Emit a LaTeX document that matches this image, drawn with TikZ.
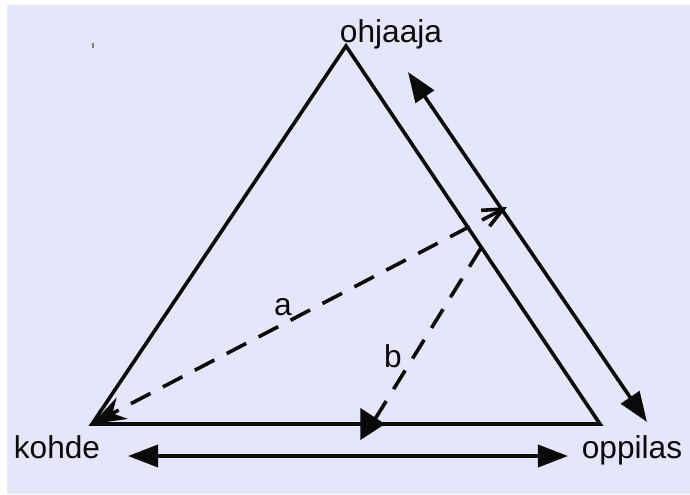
\documentclass[tikz,border=0pt]{standalone}
\usepackage{fontspec}
\setmainfont{Liberation Sans}
\usetikzlibrary{arrows.meta,decorations.markings}
\definecolor{TriBack}{RGB}{230,230,250}
\definecolor{TriInk}{RGB}{10,10,10}

\begin{document}
\begin{tikzpicture}[x=0.025cm,y=-0.025cm,line width=0.09cm,TriInk,
    >={Triangle[length=0.75cm,width=0.55cm]},
    font=\fontsize{22.5}{27}\selectfont,
    vertexlbl/.style={anchor=base,inner sep=0pt},
    dashline/.style={dash pattern=on 0.55cm off 0.35cm}]
    \fill[white] (0,0) rectangle (690,494);
    \fill[TriBack] (7,5) rectangle (690,494);
    \fill[gray] (92.2,43) rectangle (93.6,47.5);
    % corners of the triangle
    \coordinate (ohj) at (346,46);
    \coordinate (koh) at (92,424);
    \coordinate (opp) at (600,424);
    \node[vertexlbl] (ohjLbl) at (391,42) {ohjaaja};
    \node[vertexlbl] (kohLbl) at (57,458) {kohde};
    \node[vertexlbl] (oppLbl) at (632,458) {oppilas};
    \draw[line join=miter] (koh) -- (ohj) -- (opp) -- cycle;
    \path[draw=none,decorate,decoration={markings,
        mark=at position 0.577 with {\arrow{Triangle[length=0.62cm,width=0.78cm]}}}]
      (koh) -- (opp);
    % arrows outside the triangle
    \coordinate (rTop) at (408,72);
    \coordinate (rBot) at (647,422);
    \coordinate (lArr) at (128,456);
    \coordinate (rArr) at (568,456);
    \draw[<->] (rTop) -- (rBot);
    \draw[<->] (lArr) -- (rArr);
    % dashed paths a and b
    \coordinate (aTop) at (507,207);
    \coordinate (bTop) at (481,248);
    \coordinate (bEnd) at (372,424);
    \draw[dashline,{Straight Barb[length=0.5cm,width=0.45cm]}-{Stealth[length=0.85cm,width=0.6cm]}]
      (aTop) -- (koh);
    \draw[dashline] (bTop) -- (bEnd);
    \node[vertexlbl] (aLbl) at (283,315) {a};
    \node[vertexlbl] (bLbl) at (393,367) {b};
\end{tikzpicture}
\end{document}
